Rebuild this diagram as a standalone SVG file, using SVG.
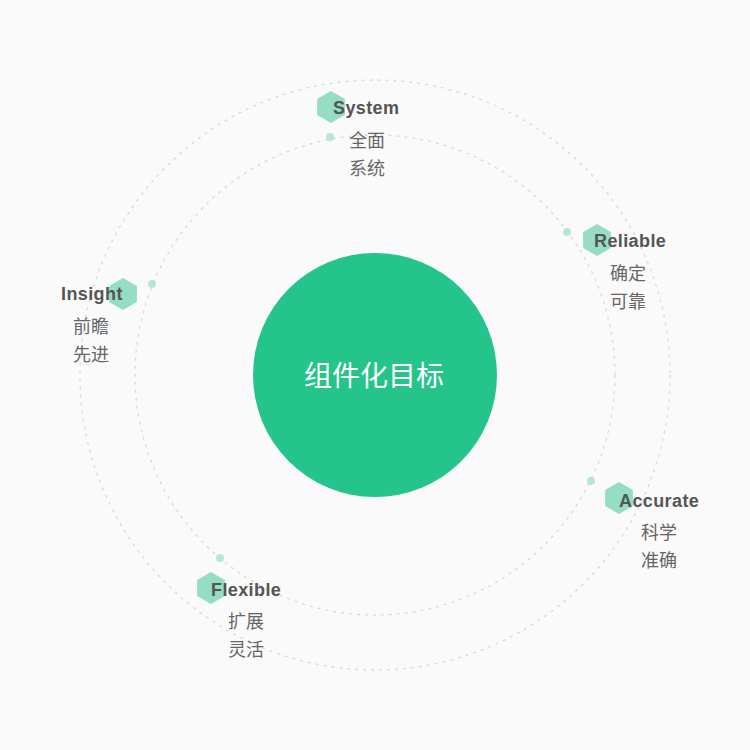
<svg xmlns="http://www.w3.org/2000/svg" width="750" height="750" viewBox="0 0 750 750">
<defs>
<style>
.bg{fill:#fafafa}
.ring{fill:none;stroke:#d9d9d9;stroke-width:1.3;stroke-dasharray:3 5}
.hex{fill:#5fd0a6;fill-opacity:0.65}
.dot{fill:#a8e3cc;fill-opacity:0.8}
.en{font-family:"Liberation Sans","Noto Sans",Arial,sans-serif;font-weight:bold;font-size:18px;fill:#555555;letter-spacing:0.4px}
.zh{font-family:"Noto Sans CJK SC","Noto Sans",sans-serif;font-size:18px;fill:#666666}
.center{font-family:"Noto Sans CJK SC",sans-serif;font-size:28px;fill:#ffffff;text-anchor:middle}
</style>
<polygon id="hx" points="0,-16 13.9,-8 13.9,8 0,16 -13.9,8 -13.9,-8"/>
</defs>
<rect class="bg" x="0" y="0" width="750" height="750"/>
<g id="connectors">
<circle class="ring" cx="375" cy="375" r="295"/>
<circle class="ring" cx="375" cy="375" r="240"/>
</g>
<g id="center">
<circle cx="375" cy="375" r="122" fill="#24c48b"/>
<text class="center" x="374" y="386">组件化目标</text>
</g>
<g id="system">
<circle class="dot" cx="330" cy="137" r="4"/>
<use href="#hx" class="hex" x="331" y="107"/>
<text class="en" x="333" y="114">System</text>
<text class="zh" x="349" y="147">全面</text>
<text class="zh" x="349" y="175">系统</text>
</g>
<g id="reliable">
<circle class="dot" cx="567" cy="232" r="4"/>
<use href="#hx" class="hex" x="597" y="240"/>
<text class="en" x="594" y="247">Reliable</text>
<text class="zh" x="610" y="280">确定</text>
<text class="zh" x="610" y="308">可靠</text>
</g>
<g id="insight">
<circle class="dot" cx="152" cy="284" r="4"/>
<use href="#hx" class="hex" x="123" y="294"/>
<text class="en" x="61" y="300">Insight</text>
<text class="zh" x="73" y="333">前瞻</text>
<text class="zh" x="73" y="361">先进</text>
</g>
<g id="accurate">
<circle class="dot" cx="591" cy="481" r="4"/>
<use href="#hx" class="hex" x="619" y="498"/>
<text class="en" x="619" y="507">Accurate</text>
<text class="zh" x="641" y="539">科学</text>
<text class="zh" x="641" y="567">准确</text>
</g>
<g id="flexible">
<circle class="dot" cx="220" cy="558" r="4"/>
<use href="#hx" class="hex" x="211" y="588"/>
<text class="en" x="211" y="596">Flexible</text>
<text class="zh" x="228" y="628">扩展</text>
<text class="zh" x="228" y="656">灵活</text>
</g>
</svg>
